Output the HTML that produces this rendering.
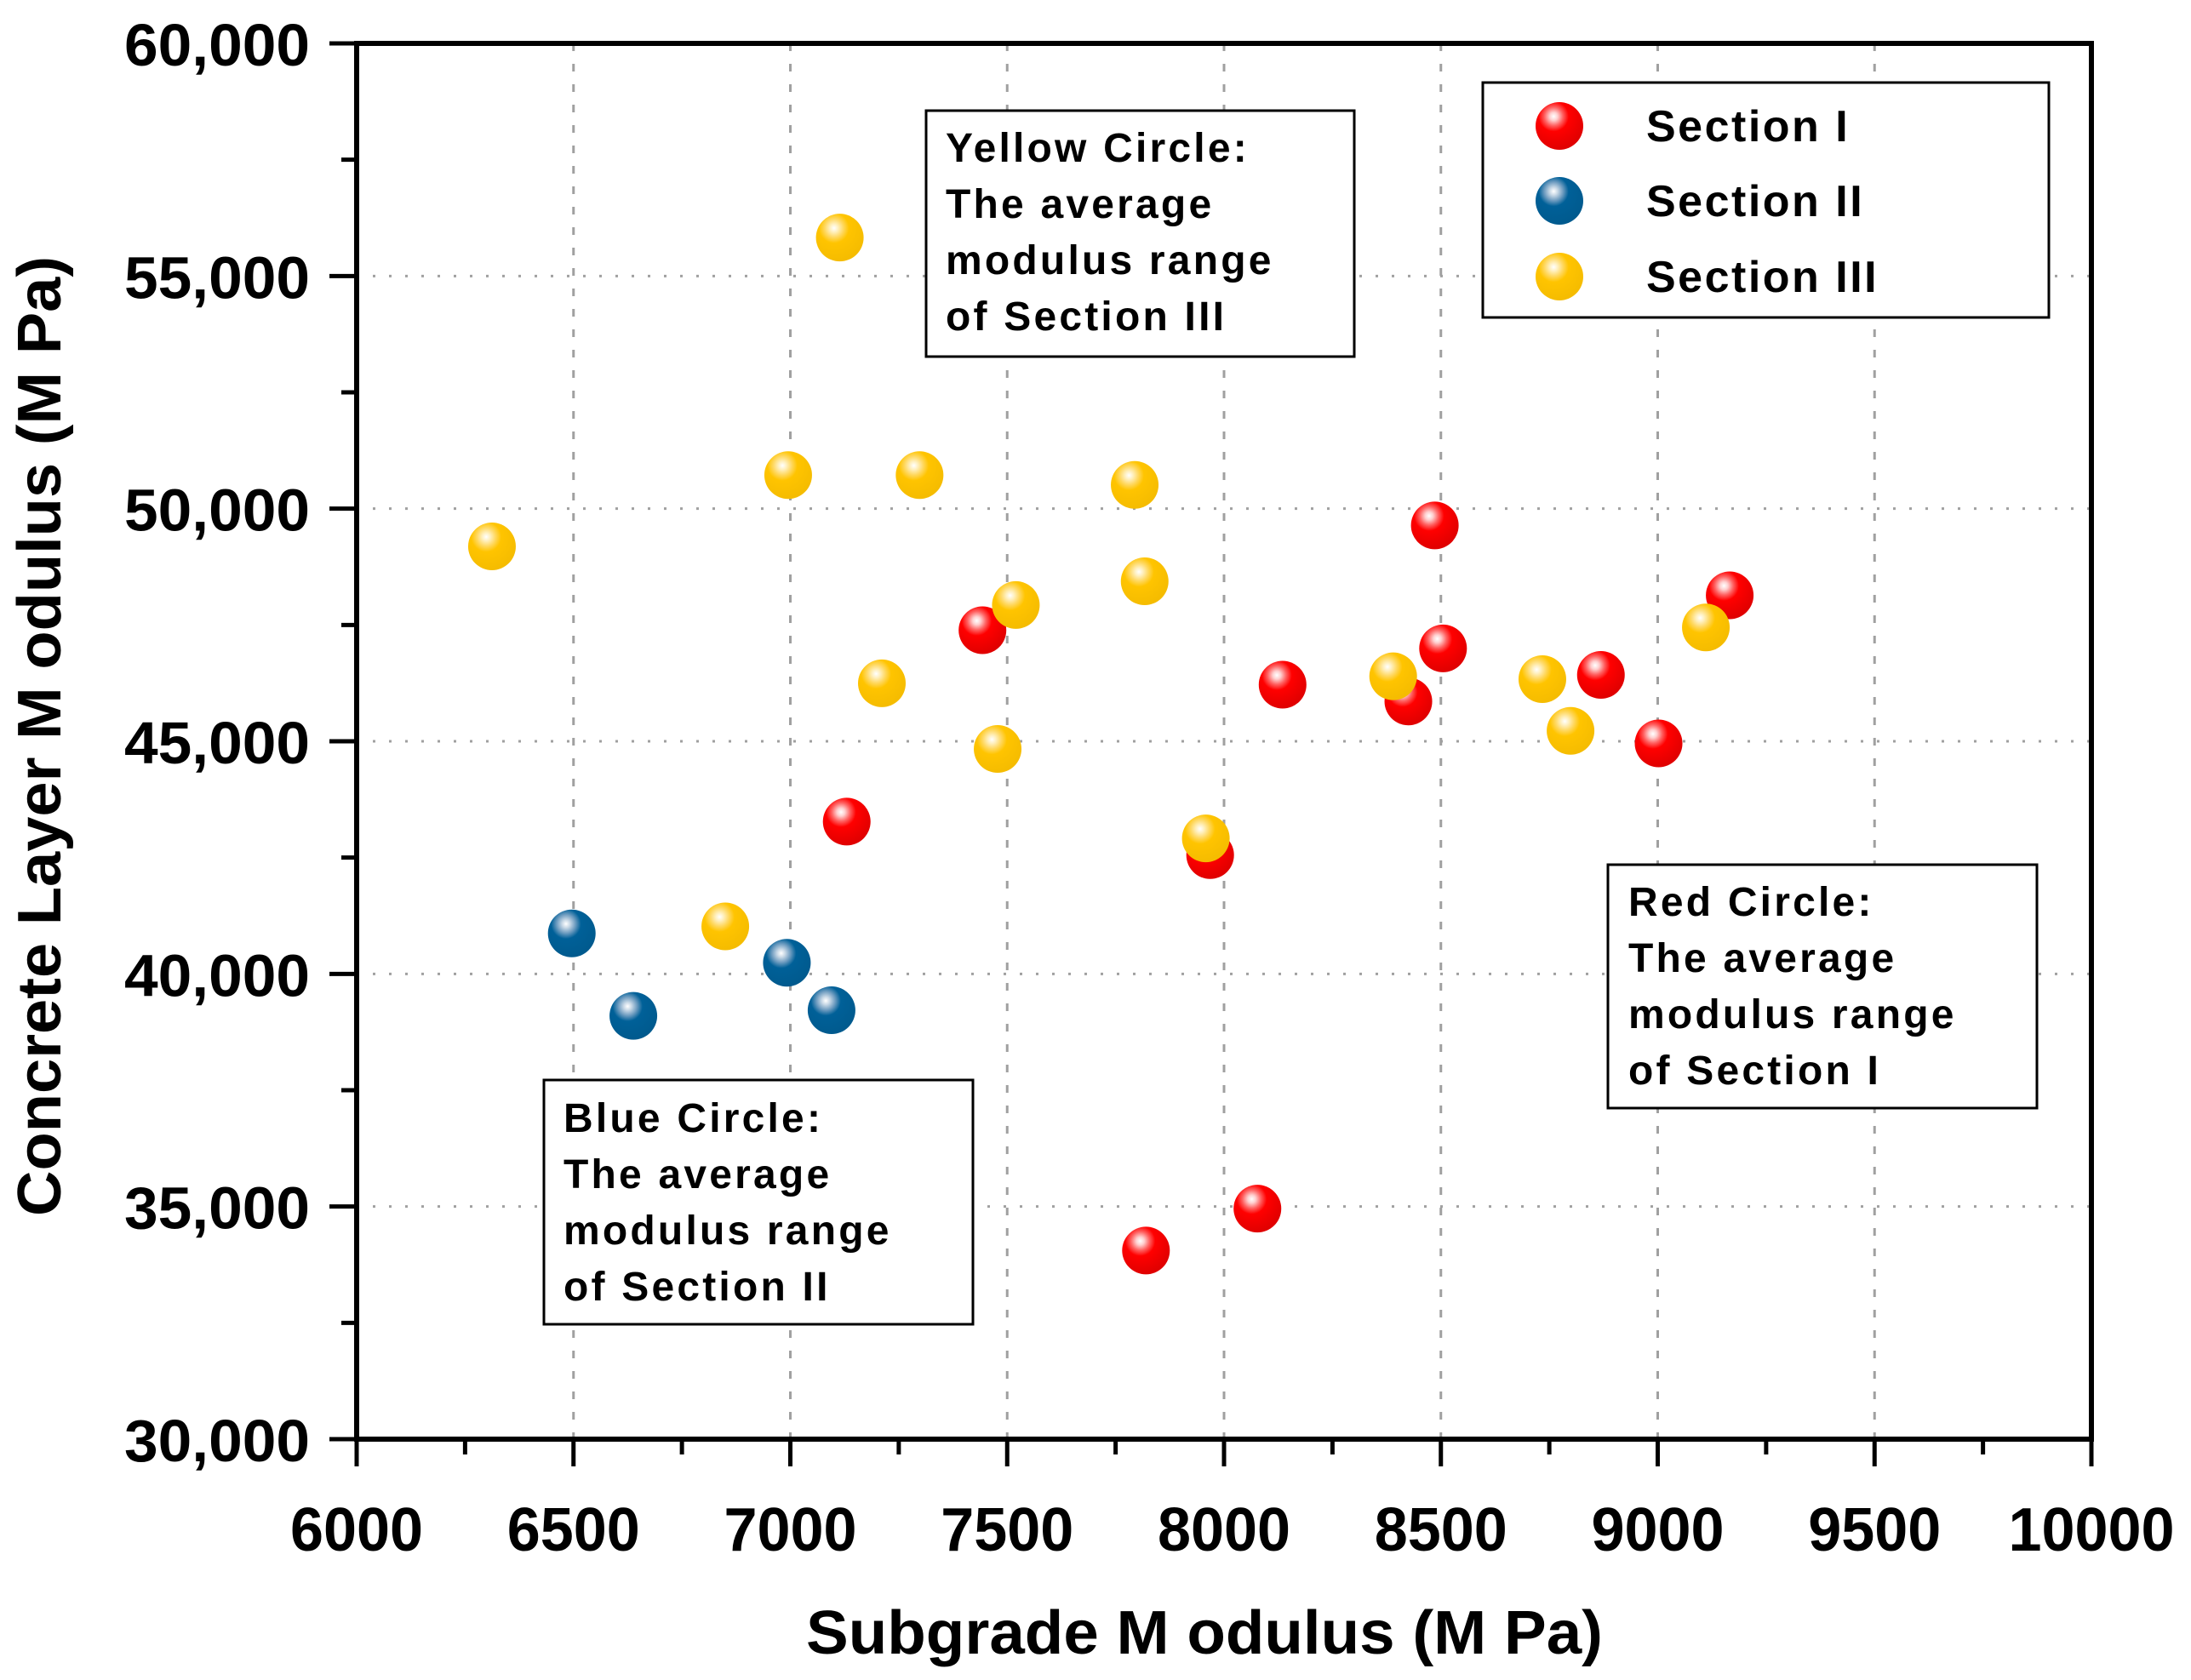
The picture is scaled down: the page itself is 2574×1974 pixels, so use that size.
<!DOCTYPE html>
<html><head><meta charset="utf-8"><style>
html,body{margin:0;padding:0;background:#fff;}
svg{display:block;font-family:"Liberation Sans",Arial,sans-serif;font-weight:bold;}
</style></head><body>
<svg id="chart" width="2574" height="1974" viewBox="0 0 2574 1974">
<defs>
<radialGradient id="gR" cx="0.38" cy="0.3" r="0.7"><stop offset="0" stop-color="#fff"/><stop offset="0.12" stop-color="#ffd0d0"/><stop offset="0.28" stop-color="#ff6060"/><stop offset="0.45" stop-color="#ff0000"/><stop offset="1" stop-color="#e00000"/></radialGradient>
<radialGradient id="gB" cx="0.38" cy="0.3" r="0.7"><stop offset="0" stop-color="#fff"/><stop offset="0.12" stop-color="#c8d8e6"/><stop offset="0.28" stop-color="#6e9cc0"/><stop offset="0.45" stop-color="#006098"/><stop offset="1" stop-color="#005a8e"/></radialGradient>
<radialGradient id="gY" cx="0.38" cy="0.3" r="0.7"><stop offset="0" stop-color="#fff"/><stop offset="0.12" stop-color="#fff0c0"/><stop offset="0.28" stop-color="#ffd860"/><stop offset="0.45" stop-color="#ffc400"/><stop offset="1" stop-color="#f5bc00"/></radialGradient>
</defs>
<g id="grid"></g>
<g id="axes"></g>
<g id="points"></g>
<g id="boxes"></g>
</svg>
<script>
const xTicks=[6000,6500,7000,7500,8000,8500,9000,9500,10000];
const yTicks=[30000,35000,40000,45000,50000,55000,60000];
const yTickLabels=["30,000","35,000","40,000","45,000","50,000","55,000","60,000"];
const s1x=[7443,7130,8135,8486,8505,8425,8869,9002,9166,7968,8077,7820];
const s1y=[47387,43273,46216,49640,46997,45856,46426,44955,48138,42553,34955,34054];
const s2x=[6496,6638,6992,7095];
const s2y=[40871,39099,40240,39219];
const s3x=[6312,7114,6995,7298,7794,7817,7520,7211,7478,7958,6850,8390,8734,8799,9111];
const s3y=[49189,55826,50721,50721,50511,48438,47928,46246,44835,42913,41021,46396,46336,45225,47447];

const L=419,R=2457,T=51,B=1691;
const X=v=>L+(v-6000)/4000*(R-L);
const Y=v=>B-(v-30000)/30000*(B-T);
const NS="http://www.w3.org/2000/svg";
function mk(tag,attrs,parent,text){const e=document.createElementNS(NS,tag);for(const k in attrs)e.setAttribute(k,attrs[k]);if(text!==undefined)e.textContent=text;parent.appendChild(e);return e;}
const grid=document.getElementById('grid'),axes=document.getElementById('axes'),pts=document.getElementById('points'),boxes=document.getElementById('boxes');

xTicks.forEach((v,i)=>{
  if(i>0&&i<xTicks.length-1){const g=mk('line',{x1:X(v),x2:X(v),y1:T,y2:B,stroke:'#a0a0a0','stroke-width':3,'stroke-dasharray':'9 15'},grid);
  
  }
  const t=mk('line',{x1:X(v),x2:X(v),y1:B,y2:B+32,stroke:'#000','stroke-width':5},axes);
  
  
  if(i<xTicks.length-1){const m=mk('line',{x1:X(v+250),x2:X(v+250),y1:B,y2:B+18,stroke:'#000','stroke-width':5},axes);
  
  }
  const lb=mk('text',{x:X(v),y:1822,'text-anchor':'middle','font-size':72,textLength:String(v).length*39,lengthAdjust:'spacingAndGlyphs'},axes,String(v));
  
  
});
yTicks.forEach((v,i)=>{
  if(i>0&&i<yTicks.length-1){const g=mk('line',{x1:L,x2:R,y1:Y(v),y2:Y(v),stroke:'#a0a0a0','stroke-width':3,'stroke-dasharray':'3 16'},grid);
  
  }
  const t=mk('line',{x1:L-32,x2:L,y1:Y(v),y2:Y(v),stroke:'#000','stroke-width':5},axes);
  
  
  if(i<yTicks.length-1){const m=mk('line',{x1:L-18,x2:L,y1:Y(v+2500),y2:Y(v+2500),stroke:'#000','stroke-width':5},axes);
  
  }
  const lb=mk('text',{x:364,y:Y(v)+26,'text-anchor':'end','font-size':70,textLength:218,lengthAdjust:'spacingAndGlyphs'},axes,yTickLabels[i]);
  
  
});
const frame=mk('rect',{x:L,y:T,width:R-L,height:B-T,fill:'none',stroke:'#000','stroke-width':6},axes);


const xt=mk('text',{x:1415,y:1943,'text-anchor':'middle','font-size':72,textLength:936,lengthAdjust:'spacingAndGlyphs'},axes,'Subgrade M odulus (M Pa)');


const yt=mk('text',{x:0,y:0,'text-anchor':'middle','font-size':72,textLength:1128,lengthAdjust:'spacingAndGlyphs',transform:'translate(71,865) rotate(-90)'},axes,'Concrete Layer M odulus (M Pa)');



function ball(cx,cy,grad,name,parent){
  const c=mk('circle',{cx:cx,cy:cy,r:28,fill:'url(#'+grad+')'},parent);
  
  
}
s1x.forEach((v,i)=>ball(X(v),Y(s1y[i]),'gR','section-i-point',pts));
s2x.forEach((v,i)=>ball(X(v),Y(s2y[i]),'gB','section-ii-point',pts));
s3x.forEach((v,i)=>ball(X(v),Y(s3y[i]),'gY','section-iii-point',pts));

function box(x,y,w,h,lines,tx,ty0,name){
  const g=mk('g',{},boxes);
  
  
  mk('rect',{x:x,y:y,width:w,height:h,fill:'#fff',stroke:'#000','stroke-width':3},g);
  lines.forEach((s,i)=>mk('text',{x:tx,y:ty0+i*66,'font-size':48,'letter-spacing':3.2},g,s));
}
box(1088,130,503,289,['Yellow Circle:','The average','modulus range','of Section III'],1111,190,'yellow-circle-note');
box(1889,1016,504,286,['Red Circle:','The average','modulus range','of Section I'],1913,1076,'red-circle-note');
box(639,1269,504,287,['Blue Circle:','The average','modulus range','of Section II'],662,1330,'blue-circle-note');

const lg=mk('g',{},boxes);


mk('rect',{x:1742,y:97,width:665,height:276,fill:'#fff',stroke:'#000','stroke-width':3},lg);
[['gR','Section I',148],['gB','Section II',236],['gY','Section III',325]].forEach(d=>{
  const c=mk('circle',{cx:1832,cy:d[2],r:28,fill:'url(#'+d[0]+')'},lg);
  
  
  const t=mk('text',{x:1934,y:d[2]+18,'font-size':52,'letter-spacing':2.5},lg,d[1]);
  
  
});
</script>
</body></html>
